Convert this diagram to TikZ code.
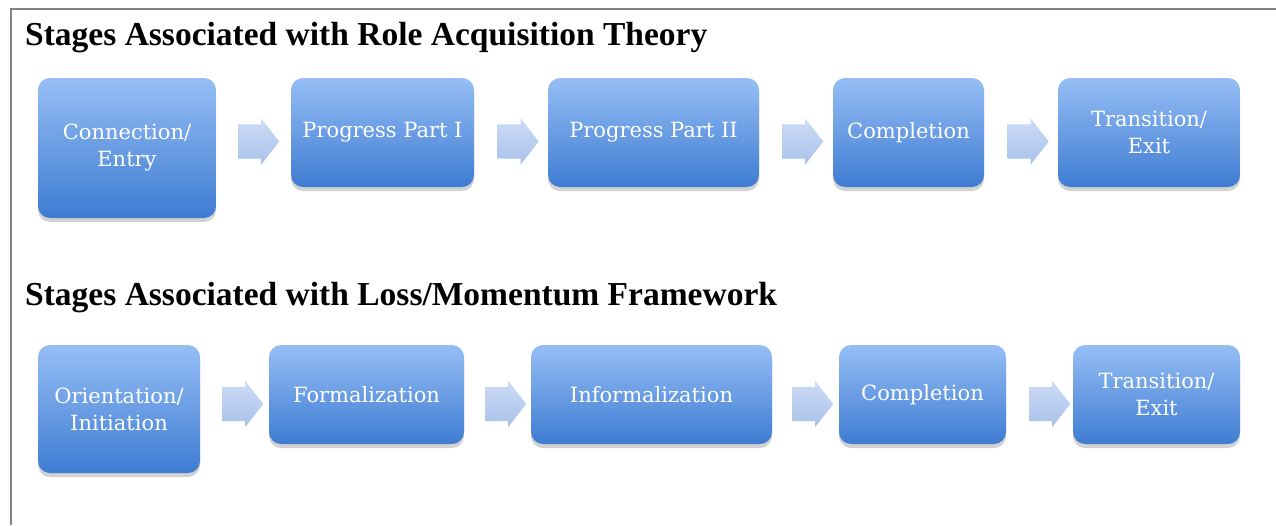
\documentclass[tikz,border=0pt]{standalone}
\usepackage{fontspec}
\setmainfont{Liberation Serif}
\newfontfamily\boxfont{DejaVu Serif}
\usetikzlibrary{shapes.arrows,shadows}
\definecolor{boxtop}{RGB}{150,190,245}
\definecolor{boxbot}{RGB}{62,124,210}
\definecolor{arrtop}{RGB}{205,220,246}
\definecolor{arrbot}{RGB}{168,193,234}
\definecolor{framegray}{RGB}{130,130,130}
\tikzset{
  stagebox/.style={rounded corners=12pt, inner sep=0pt, outer sep=0pt,
    top color=boxtop, bottom color=boxbot, draw=none,
    align=center, text=white,
    font=\boxfont\fontsize{21}{27}\selectfont,
    drop shadow={opacity=0.35, shadow xshift=0pt, shadow yshift=-4pt}},
  flowarrow/.style={single arrow, single arrow head extend=6pt,
    single arrow tip angle=104, minimum height=41pt, inner xsep=0pt, inner ysep=17pt,
    top color=arrtop, bottom color=arrbot, draw=none},
  heading/.style={anchor=base west, inner sep=0pt,
    font=\bfseries\fontsize{33.5}{40}\selectfont}
}
\begin{document}
\begin{tikzpicture}[x=1pt,y=-1pt]
\useasboundingbox (0,0) rectangle (1276,525);
\fill[white] (0,0) rectangle (1276,525);
\draw[framegray, line width=2pt] (10.5,525) -- (10.5,8.5) -- (1276,8.5);

\node[heading] (t1) at (25,45) {Stages Associated with Role Acquisition Theory};
\node[heading] (t2) at (25,305) {Stages Associated with Loss/Momentum Framework};

% row 1
\node[stagebox, minimum width=178pt, minimum height=140pt] (a1) at (127,148) {Connection/\\Entry};
\node[stagebox, minimum width=183pt, minimum height=109pt] (a2) at (382.5,132.5) {Progress Part I};
\node[stagebox, minimum width=211pt, minimum height=109pt] (a3) at (653.5,132.5) {Progress Part II};
\node[stagebox, minimum width=151pt, minimum height=109pt] (a4) at (908.5,132.5) {Completion};
\node[stagebox, minimum width=182pt, minimum height=109pt] (a5) at (1149,132.5) {Transition/\\Exit};

\node[flowarrow] (r1) at (252,141.5) {};
\node[flowarrow] (r2) at (511.5,141.5) {};
\node[flowarrow] (r3) at (796,141.5) {};
\node[flowarrow] (r4) at (1021.5,141.5) {};

% row 2
\node[stagebox, minimum width=162pt, minimum height=128pt] (b1) at (119,409) {Orientation/\\Initiation};
\node[stagebox, minimum width=195pt, minimum height=99pt] (b2) at (366.5,394.5) {Formalization};
\node[stagebox, minimum width=241pt, minimum height=99pt] (b3) at (651.5,394.5) {Informalization};
\node[stagebox, minimum width=167pt, minimum height=99pt] (b4) at (922.5,394.5) {Completion};
\node[stagebox, minimum width=167pt, minimum height=99pt] (b5) at (1156.5,394.5) {Transition/\\Exit};

\node[flowarrow] (s1) at (236,404) {};
\node[flowarrow] (s2) at (499,404) {};
\node[flowarrow] (s3) at (806,404) {};
\node[flowarrow] (s4) at (1043,404) {};
\end{tikzpicture}
\end{document}
